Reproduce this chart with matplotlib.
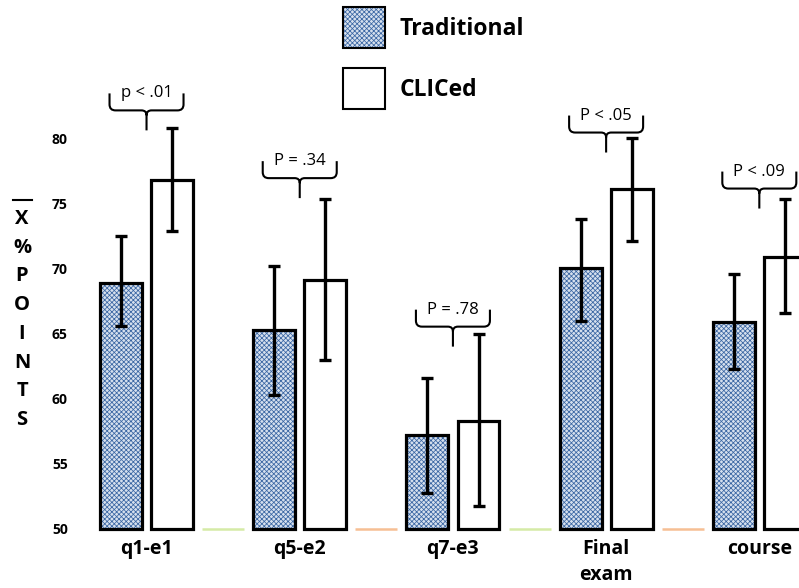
import numpy as np
import matplotlib
matplotlib.use('Agg')
import matplotlib.pyplot as plt
from matplotlib.patches import Patch, PathPatch
from matplotlib.path import Path
from matplotlib.lines import Line2D
from matplotlib.legend_handler import HandlerTuple

plt.rcParams['font.family'] = ['Open Sans', 'DejaVu Sans']
plt.rcParams['hatch.color'] = '#3a66a3'
plt.rcParams['hatch.linewidth'] = 0.55

groups = ['q1-e1', 'q5-e2', 'q7-e3', 'Final\nexam', 'course']
trad_mean = [68.9, 65.3, 57.2, 70.0, 65.9]
trad_lo = [65.6, 60.3, 52.8, 66.0, 62.3]
trad_hi = [72.5, 70.2, 61.6, 73.8, 69.6]
cliced_mean = [76.8, 69.1, 58.3, 76.1, 70.9]
cliced_lo = [72.9, 63.0, 51.8, 72.1, 66.6]
cliced_hi = [80.8, 75.3, 65.0, 80.0, 75.3]
p_labels = ['p < .01', 'P = .34', 'P = .78', 'P < .05', 'P < .09']
p_tip = [80.6, 75.4, 64.0, 78.9, 74.6]
sep_colors = ['#d5eba6', '#f6bf94', '#d5eba6', '#f6bf94']

base = 50
off = 0.167
w = 0.274
x = np.arange(len(groups))
trad_face = '#d6e0ee'
trad_hatch = 'xxxxxxx'

fig = plt.figure(figsize=(7.99, 5.88), dpi=100)
ax = fig.add_axes([90/799, 59/588, 709/799, 482/588])
ax.set_xlim(-0.369, 4.259)
ax.set_ylim(50, 87)

t_h = np.array(trad_mean) - base
c_h = np.array(cliced_mean) - base

# hatch layer (no edge so hatch keeps rc colour), then black outline
ax.bar(x - off, t_h, w, bottom=base, color=trad_face, hatch=trad_hatch,
       linewidth=0, zorder=2, clip_on=False)
ax.bar(x - off, t_h, w, bottom=base, facecolor='none', edgecolor='black',
       linewidth=2.3, zorder=3, clip_on=False)
ax.bar(x + off, c_h, w, bottom=base, facecolor='white', edgecolor='black',
       linewidth=2.3, zorder=3, clip_on=False)

ax.errorbar(x - off, trad_mean,
            yerr=[np.array(trad_mean) - trad_lo, np.array(trad_hi) - trad_mean],
            fmt='none', ecolor='black', elinewidth=2.4, capsize=4, capthick=2.4,
            zorder=4, clip_on=False)
ax.errorbar(x + off, cliced_mean,
            yerr=[np.array(cliced_mean) - cliced_lo, np.array(cliced_hi) - cliced_mean],
            fmt='none', ecolor='black', elinewidth=2.4, capsize=4, capthick=2.4,
            zorder=4, clip_on=False)

# little coloured pieces of baseline between groups
sx = x[:-1] + 0.5
ax.hlines([base] * len(sx), sx - w/2, sx + w/2, colors=sep_colors, linewidth=1.8,
          zorder=1, clip_on=False)

# curly braces with p values
px = 153.2  # pixels per x unit
py = 13.04  # pixels per y unit
def brace(xc, ytip):
    yl = ytip + 20/py
    pts = [(-37, 17), (-37, 6), (-37, 0), (-31, 0), (-5, 0), (0, 0), (0, -5), (0, -20),
           (0, -5), (0, 0), (5, 0), (31, 0), (37, 0), (37, 6), (37, 17)]
    codes = [Path.MOVETO, Path.LINETO, Path.CURVE3, Path.CURVE3, Path.LINETO,
             Path.CURVE3, Path.CURVE3, Path.LINETO,
             Path.MOVETO, Path.CURVE3, Path.CURVE3, Path.LINETO, Path.CURVE3,
             Path.CURVE3, Path.LINETO]
    verts = [(xc + a/px, yl + b/py) for a, b in pts]
    ax.add_patch(PathPatch(Path(verts, codes), facecolor='none', edgecolor='black',
                           linewidth=1.5, clip_on=False, zorder=5))
    return yl

for i in range(len(groups)):
    yl = brace(x[i], p_tip[i])
    ax.text(x[i], yl + 17/py, p_labels[i], ha='center', va='center', fontsize=12)

ax.set_yticks([50, 55, 60, 65, 70, 75, 80])
ax.set_xticks(x)
ax.set_xticklabels(groups, fontweight='bold', fontsize=14, linespacing=1.45, va='top')
for lab in ax.get_yticklabels():
    lab.set_fontweight('bold')
    lab.set_fontsize(10)
ax.tick_params(axis='y', length=0, pad=16)
ax.tick_params(axis='x', length=0, pad=7)
for s in ax.spines.values():
    s.set_visible(False)

# stacked y label with overbar on X
fig.text(22/799, 1 - 319.5/588, '\n'.join('X%POINTS'), ha='center', va='center',
         fontsize=14.5, fontweight='bold', linespacing=1.58)
fig.add_artist(Line2D([13/799, 32/799], [1 - 200/588, 1 - 200/588], color='black', lw=1.5))

h_trad = (Patch(facecolor=trad_face, hatch=trad_hatch, linewidth=0),
          Patch(facecolor='none', edgecolor='black', linewidth=1.5))
h_cl = Patch(facecolor='white', edgecolor='black', linewidth=1.5)
fig.legend([h_trad, h_cl], ['Traditional', 'CLICed'],
           handler_map={tuple: HandlerTuple(ndivide=1, pad=0)},
           loc='upper left', bbox_to_anchor=(343/799, 1 - 7/588), frameon=False,
           borderpad=0, borderaxespad=0, handlelength=1.85, handleheight=2.4,
           labelspacing=0.85, handletextpad=0.6,
           prop={'weight': 'bold', 'size': 16.5})

fig.savefig('out.png', dpi=100)
